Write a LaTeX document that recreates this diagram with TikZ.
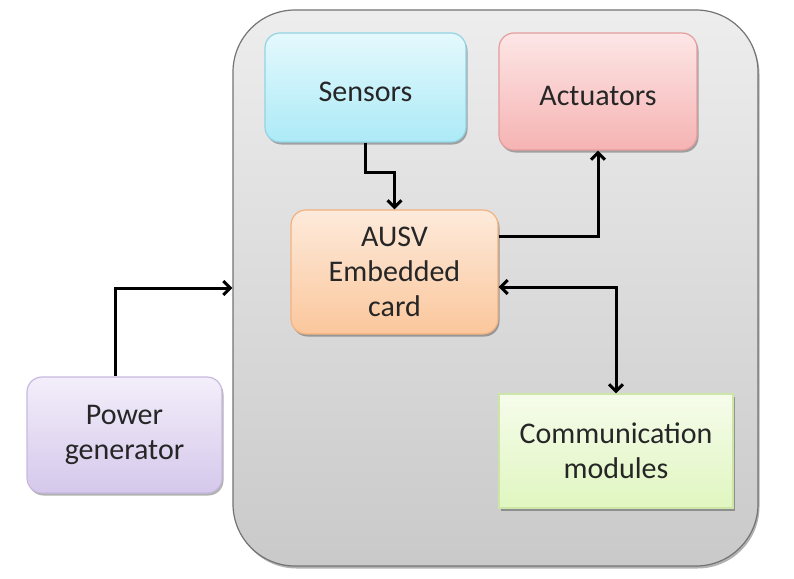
\documentclass[tikz,border=0pt]{standalone}
\usepackage{fontspec}
\setmainfont{Carlito}
\usepackage{tikz}
\usetikzlibrary{
        arrows.meta,
        positioning,
        shadows
    }
\definecolor{sensTop}{HTML}{E4F9FD}
\definecolor{sensBot}{HTML}{ACEAF7}
\definecolor{sensLine}{HTML}{93D3E3}
\definecolor{actTop}{HTML}{FDE6E6}
\definecolor{actBot}{HTML}{F6B3B3}
\definecolor{actLine}{HTML}{E39D9D}
\definecolor{cardTop}{HTML}{FDEADB}
\definecolor{cardBot}{HTML}{FBC79C}
\definecolor{cardLine}{HTML}{F2B27F}
\definecolor{powTop}{HTML}{F3EEFA}
\definecolor{powBot}{HTML}{D5C8EB}
\definecolor{powLine}{HTML}{C7B8E0}
\definecolor{comTop}{HTML}{F6FCEB}
\definecolor{comBot}{HTML}{E0F6C0}
\definecolor{comLine}{HTML}{CDE6A8}
\tikzset{>={Straight Barb[length=7pt,width=14pt]},auto}
\tikzset{block/.style={rounded corners=15pt,draw,line width=1.2pt,align=center,
        font=\fontsize{30}{35}\selectfont,text=black!85,
        drop shadow={shadow xshift=1.5pt,shadow yshift=-2.5pt,opacity=.3,fill=black}}}
\begin{document}
\begin{tikzpicture}[x=1pt,y=-1pt]
                    \useasboundingbox (0,0) rectangle (794,578);
                    \tikzset{wire/.style={->,line width=3pt,black}}

                        % outer body
                        \node[block,draw=black!55,top color=black!7,bottom color=black!21,
                              rounded corners=62pt,minimum width=525pt,minimum height=556pt] (body) at (495.5,288) {};
                        \node[block,draw=sensLine,top color=sensTop,bottom color=sensBot,text height=29pt,
                              minimum width=201pt,minimum height=109pt] (sens) at (365.5,87.5) {Sensors};
                        \node[block,draw=actLine,top color=actTop,bottom color=actBot,text height=29pt,
                              minimum width=198pt,minimum height=117pt] (act) at (598,91.5) {Actuators};
                        \node[block,draw=cardLine,top color=cardTop,bottom color=cardBot,
                              minimum width=207pt,minimum height=124pt] (card) at (394.5,272) {AUSV\\Embedded\\card};
                        \node[block,draw=powLine,top color=powTop,bottom color=powBot,
                              minimum width=195pt,minimum height=116pt] (pow) at (124.5,435) {Power\\generator};
                        \node[block,draw=comLine,top color=comTop,bottom color=comBot,rounded corners=0pt,
                              minimum width=234pt,minimum height=114pt] (com) at (616,451) {Communication\\modules};

                    \draw[wire] (sens.south) -- ++(0,30) -| (card.north);
                    \draw[wire] ([yshift=36pt]card.east) -| (act.south);
                    \draw[wire,<->] ([yshift=-15pt]card.east) -| (com.north);
                    \draw[wire] ([xshift=-9pt]pow.north) |- (body.west);
            \end{tikzpicture}
\end{document}
